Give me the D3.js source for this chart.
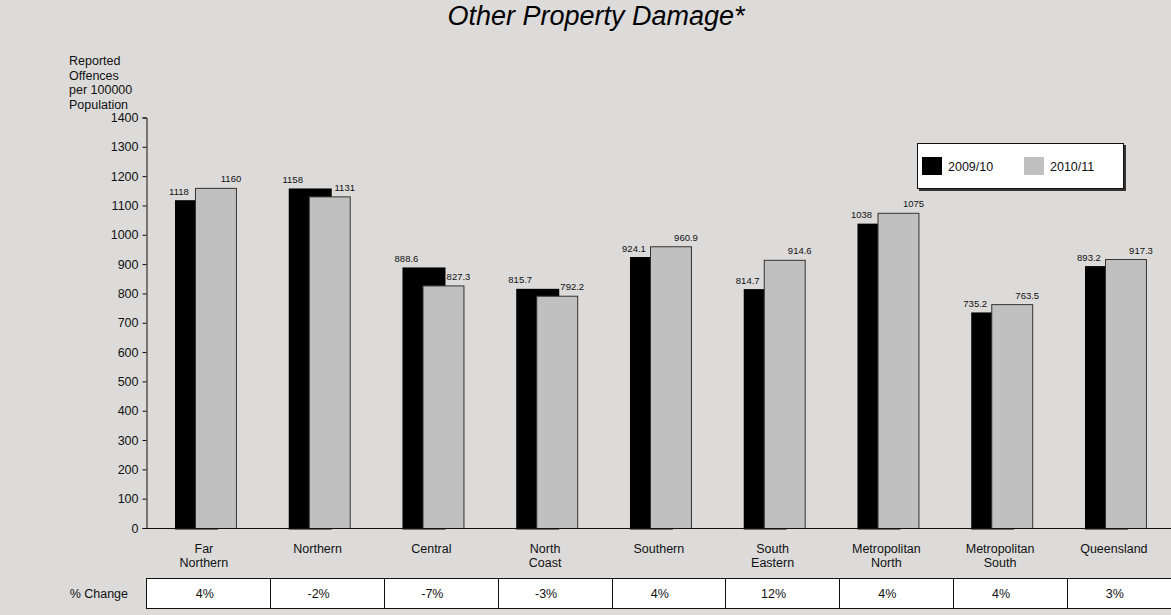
<!DOCTYPE html>
<html>
<head>
<meta charset="utf-8">
<script src="https://cdn.jsdelivr.net/npm/d3@7"></script>
<style>
  body { margin: 0; background: #dcdbda; }
  svg { display: block; font-family: Arial, "Liberation Sans", sans-serif; }
</style>
</head>
<body>
<script>
// categories and values
const regions = [
  ["Far", "Northern"], ["Northern"], ["Central"], ["North", "Coast"], ["Southern"],
  ["South", "Eastern"], ["Metropolitan", "North"], ["Metropolitan", "South"], ["Queensland"]
];
const series = ["2009/10", "2010/11"];
const values0910 = [1118, 1158, 888.6, 815.7, 924.1, 814.7, 1038, 735.2, 893.2];
const values1011 = [1160, 1131, 827.3, 792.2, 960.9, 914.6, 1075, 763.5, 917.3];
const labels0910 = ["1118", "1158", "888.6", "815.7", "924.1", "814.7", "1038", "735.2", "893.2"];
const labels1011 = ["1160", "1131", "827.3", "792.2", "960.9", "914.6", "1075", "763.5", "917.3"];
const pctChange = ["4%", "-2%", "-7%", "-3%", "4%", "12%", "4%", "4%", "3%"];
const yTicks = d3.range(0, 1401, 100);

const W = 1171, H = 615;
const plotLeft = 147, plotRight = 1170.75, plotTop = 117.5, plotBottom = 528;

const svg = d3.select("body").append("svg")
  .attr("width", W)
  .attr("height", H);

svg.append("rect").attr("width", W).attr("height", H).attr("fill", "#dcdbda");

const keys = regions.map((d, i) => i);
const x = d3.scaleBand().domain(keys).range([plotLeft, plotRight]);
const y = d3.scaleLinear().domain([0, 1400]).range([plotBottom, plotTop]);
const bw = x.bandwidth();

// title
svg.append("text")
  .attr("x", 596).attr("y", 25)
  .attr("text-anchor", "middle")
  .style("font-size", "27px")
  .style("font-style", "italic")
  .text("Other Property Damage*");

// y axis title
const ytitle = svg.append("text")
  .style("font-size", "12.5px")
  .attr("fill", "#111");
["Reported", "Offences", "per 100000", "Population"].forEach((t, i) => {
  ytitle.append("tspan").attr("x", 69).attr("y", 65 + i * 14.5).text(t);
});

// y axis
const yAxis = svg.append("g")
  .attr("transform", "translate(" + (plotLeft - 0.5) + ",0)")
  .call(d3.axisLeft(y).tickValues(yTicks).tickSize(4).tickPadding(4).tickFormat(d3.format("d")));
yAxis.select(".domain").attr("stroke", "#111");
yAxis.selectAll(".tick line").attr("stroke", "#111");
yAxis.selectAll(".tick text")
  .style("font-size", "12.5px")
  .style("font-family", "Arial, 'Liberation Sans', sans-serif")
  .attr("fill", "#111");

// bars
const groups = svg.append("g").selectAll("g")
  .data(keys)
  .enter().append("g");

groups.append("rect")
  .attr("x", d => x(d) + bw * 0.246)
  .attr("y", d => y(values0910[d]))
  .attr("width", bw * 0.378)
  .attr("height", d => y(0) - y(values0910[d]) + 1.5)
  .attr("fill", "#000");

groups.append("rect")
  .attr("x", d => x(d) + bw * 0.422 + 0.5)
  .attr("y", d => y(values1011[d]) + 0.5)
  .attr("width", bw * 0.36)
  .attr("height", d => y(0) - y(values1011[d]))
  .attr("fill", "#c0c0c0")
  .attr("stroke", "#333")
  .attr("stroke-width", 1);

// zero line
svg.append("line")
  .attr("x1", plotLeft - 4).attr("x2", W)
  .attr("y1", y(0) + 0.5).attr("y2", y(0) + 0.5)
  .attr("stroke", "#111");

// value labels
groups.append("text")
  .attr("x", d => x(d) + bw * 0.246 + 4)
  .attr("y", d => y(values0910[d]) - 5.5)
  .attr("text-anchor", "middle")
  .style("font-size", "9.5px")
  .attr("fill", "#111")
  .text(d => labels0910[d]);

groups.append("text")
  .attr("x", d => x(d) + bw * 0.422 + 36)
  .attr("y", d => y(values1011[d]) - 5.5)
  .attr("text-anchor", "middle")
  .style("font-size", "9.5px")
  .attr("fill", "#111")
  .text(d => labels1011[d]);

// category labels
groups.append("text")
  .attr("text-anchor", "middle")
  .style("font-size", "12.5px")
  .attr("fill", "#111")
  .each(function (d) {
    const t = d3.select(this);
    regions[d].forEach((line, i) => {
      t.append("tspan")
        .attr("x", x(d) + bw / 2)
        .attr("y", 553 + i * 13.5)
        .text(line);
    });
  });

// % change table
const tTop = 578, tBot = 608;
svg.append("rect")
  .attr("x", plotLeft - 0.5).attr("y", tTop + 0.5)
  .attr("width", W - plotLeft + 1).attr("height", tBot - tTop)
  .attr("fill", "#fff")
  .attr("stroke", "#111");

svg.append("text")
  .attr("x", 128).attr("y", 598)
  .attr("text-anchor", "end")
  .style("font-size", "12.5px")
  .attr("fill", "#111")
  .text("% Change");

svg.append("g").selectAll("line")
  .data(keys.slice(1))
  .enter().append("line")
  .attr("x1", d => Math.round(x(d) + 9.5) + 0.5)
  .attr("x2", d => Math.round(x(d) + 9.5) + 0.5)
  .attr("y1", tTop).attr("y2", tBot)
  .attr("stroke", "#111");

svg.append("g").selectAll("text")
  .data(keys)
  .enter().append("text")
  .attr("x", d => x(d) + bw / 2 + 1)
  .attr("y", 598)
  .attr("text-anchor", "middle")
  .style("font-size", "12.5px")
  .attr("fill", "#111")
  .text(d => pctChange[d]);

// legend
const lg = svg.append("g").attr("transform", "translate(917,143)");
lg.append("rect").attr("x", 2).attr("y", 2).attr("width", 207).attr("height", 46).attr("fill", "#333");
lg.append("rect").attr("x", 0.5).attr("y", 0.5).attr("width", 206).attr("height", 45)
  .attr("fill", "#fff").attr("stroke", "#111");
const legColors = ["#000", "#c0c0c0"];
series.forEach((s, i) => {
  const g = lg.append("g").attr("transform", "translate(" + (5 + i * 102) + ",0)");
  g.append("rect").attr("x", 0).attr("y", 14).attr("width", 20).attr("height", 18).attr("fill", legColors[i]);
  g.append("text").attr("x", 26).attr("y", 28)
    .style("font-size", "12.5px").attr("fill", "#111").text(s);
});
</script>
</body>
</html>
